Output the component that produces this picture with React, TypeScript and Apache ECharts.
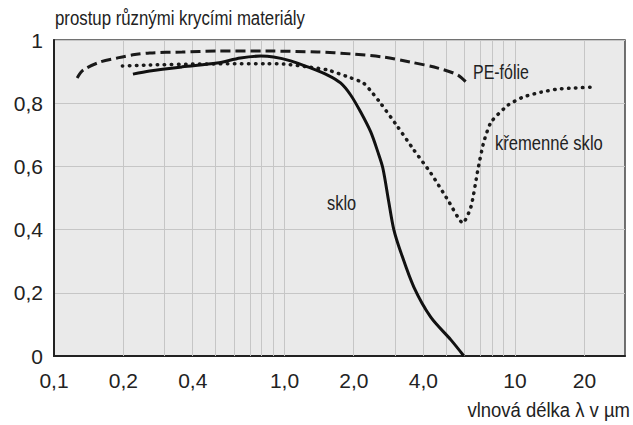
import React, { useEffect, useRef } from "react";
import * as echarts from "echarts";

// ---- data (wavelength in µm, transmittance 0..1) ----
const peX = [0.126, 0.134, 0.158, 0.188, 0.22, 0.26, 0.36, 0.51, 0.84, 1.39, 1.94, 2.69, 3.53, 4.63, 5.65, 6.3];
const peY = [0.88, 0.905, 0.93, 0.943, 0.953, 0.959, 0.962, 0.965, 0.965, 0.962, 0.956, 0.946, 0.93, 0.911, 0.889, 0.858];

const quartzX = [0.198, 0.26, 0.43, 0.84, 0.99, 1.26, 1.54, 1.94, 2.2, 2.41, 2.61, 3.1, 3.64, 4.31, 5.11, 5.94, 6.44, 6.9, 7.3, 7.87, 9.33, 10.9, 13.0, 15.4, 18.1, 21.8];
const quartzY = [0.918, 0.921, 0.924, 0.925, 0.924, 0.915, 0.905, 0.88, 0.864, 0.832, 0.8, 0.725, 0.652, 0.579, 0.494, 0.421, 0.472, 0.589, 0.674, 0.74, 0.794, 0.82, 0.835, 0.845, 0.848, 0.851];

const skloX = [0.22, 0.26, 0.36, 0.51, 0.644, 0.787, 0.896, 1.063, 1.259, 1.538, 1.75, 1.936, 2.14, 2.366, 2.54, 2.67, 2.83, 2.98, 3.19, 3.64, 4.31, 5.27, 6.0];
const skloY = [0.892, 0.902, 0.915, 0.927, 0.943, 0.949, 0.946, 0.934, 0.915, 0.889, 0.864, 0.826, 0.772, 0.709, 0.646, 0.595, 0.49, 0.4, 0.33, 0.218, 0.123, 0.051, 0];

const xTickValues = [0.1, 0.2, 0.4, 1, 2, 4, 10, 20];
const xTickLabels = ["0,1", "0,2", "0,4", "1,0", "2,0", "4,0", "10", "20"];
const xGridValues = [0.2, 0.3, 0.4, 0.5, 0.6, 0.7, 0.8, 0.9, 1, 2, 3, 4, 5, 6, 7, 8, 9, 10, 20];
const xMin = 0.1;
const xMax = 30;

const titleText = "prostup různými krycími materiály";
const xAxisTitle = "vlnová délka λ v µm";
const labelPE = "PE-fólie";
const labelQuartz = "křemenné sklo";
const labelSklo = "sklo";

const FONT = '"Liberation Sans", Arial, sans-serif';

const toPts = (xs: number[], ys: number[]) => xs.map((x, i) => [Math.log10(x), ys[i]]);

export default function App() {
  const ref = useRef<HTMLDivElement>(null);
  useEffect(() => {
    if (!ref.current) return;
    const chart = echarts.init(ref.current, undefined, { renderer: "svg" });
    const txt = (text: string, x: number, y: number, size: number, sx: number, align = "left") => ({
      type: "text",
      x,
      y,
      z: 100,
      zlevel: 0,
      scaleX: sx,
      style: { text, fontFamily: FONT, fontSize: size, fill: "#222", align, verticalAlign: "middle" },
    });
    const option: any = {
      animation: false,
      backgroundColor: "#ffffff",
      textStyle: { fontFamily: FONT },
      grid: {
        left: 54,
        right: 8,
        top: 40,
        bottom: 69,
        show: true,
        backgroundColor: "#eaeaea",
        borderColor: "#444",
        borderWidth: 1.5,
      },
      xAxis: {
        type: "value",
        min: Math.log10(xMin),
        max: Math.log10(xMax),
        axisLine: { show: true, onZero: false, lineStyle: { color: "#222", width: 2 } },
        axisTick: { show: false },
        splitLine: { show: false },
        axisLabel: {
          customValues: xTickValues.map((v) => Math.log10(v)),
          formatter: (v: number) => {
            let best = 0;
            xTickValues.forEach((t, i) => {
              if (Math.abs(Math.log10(t) - v) < Math.abs(Math.log10(xTickValues[best]) - v)) best = i;
            });
            return xTickLabels[best];
          },
          fontFamily: FONT,
          fontSize: 21,
          color: "#222",
          margin: 14,
        },
      },
      yAxis: {
        type: "value",
        min: 0,
        max: 1,
        interval: 0.2,
        axisLine: { show: true, onZero: false, lineStyle: { color: "#222", width: 2 } },
        axisTick: { show: false },
        splitLine: { show: true, lineStyle: { color: "#c6c6c6", width: 1 } },
        axisLabel: {
          formatter: (v: number) => (v === 0 ? "0" : v === 1 ? "1" : v.toFixed(1).replace(".", ",")),
          fontFamily: FONT,
          fontSize: 21,
          color: "#222",
          margin: 11,
        },
      },
      series: [
        {
          type: "line",
          data: [],
          z: 1,
          silent: true,
          markLine: {
            silent: true,
            symbol: "none",
            z: 1,
            label: { show: false },
            lineStyle: { color: "#c6c6c6", width: 1, type: "solid" },
            data: xGridValues.map((v) => ({ xAxis: Math.log10(v) })),
          },
        },
        {
          name: labelPE,
          type: "line",
          data: toPts(peX, peY),
          showSymbol: false,
          smooth: 0.3,
          z: 3,
          lineStyle: { color: "#1a1a1a", width: 3, type: [10, 5] },
        },
        {
          name: labelQuartz,
          type: "line",
          data: toPts(quartzX, quartzY),
          showSymbol: false,
          smooth: 0.2,
          z: 3,
          lineStyle: { color: "#1a1a1a", width: 3.5, type: [0.5, 6.5], cap: "round" },
        },
        {
          name: labelSklo,
          type: "line",
          data: toPts(skloX, skloY),
          showSymbol: false,
          smooth: 0.3,
          z: 4,
          lineStyle: { color: "#111", width: 3 },
        },
      ],
      graphic: {
        elements: [
          txt(titleText, 55, 18, 21, 0.8),
          txt(xAxisTitle, 630, 410, 21, 0.88, "right"),
          txt(labelPE, 473, 72, 21, 0.76),
          txt(labelQuartz, 495, 143, 21, 0.79),
          txt(labelSklo, 327, 203, 21, 0.78),
        ],
      },
    };
    chart.setOption(option);
    return () => chart.dispose();
  }, []);
  return <div ref={ref} style={{ position: "absolute", left: 0, top: 0, width: 633, height: 425 }} />;
}
